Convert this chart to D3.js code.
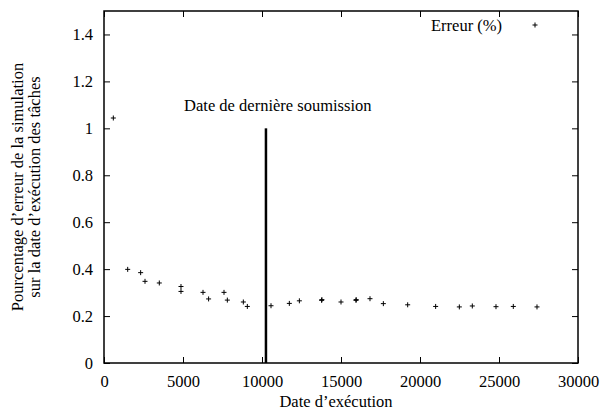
<!DOCTYPE html>
<html>
<head>
<meta charset="utf-8">
<script src="https://cdn.jsdelivr.net/npm/d3@7"></script>
<style>
  body { margin: 0; background: #fff; }
  svg text { font-family: "Liberation Serif", "Times New Roman", Times, "DejaVu Serif", serif; }
</style>
</head>
<body>
<div id="chart"></div>
<script>
let height = 413,
    width = 601,
    margin = ({ top: 11, right: 23, bottom: 50, left: 104 });

// Erreur (%) en fonction de la date d'exécution
const dates = [590, 1500, 2320, 2595, 3500, 4873, 4873, 6266, 6620, 7595, 7806, 8819, 9072,
  10570, 11730, 12365, 13775, 13790, 15000, 15950, 15960, 16835, 17680, 19220, 20990,
  22490, 23310, 24810, 25905, 27405];
const erreurs = [1.044, 0.399, 0.385, 0.348, 0.341, 0.326, 0.305, 0.301, 0.273, 0.301, 0.268, 0.260, 0.241,
  0.244, 0.254, 0.265, 0.267, 0.270, 0.260, 0.267, 0.270, 0.274, 0.253, 0.248, 0.241,
  0.239, 0.243, 0.240, 0.241, 0.239];
const xTicks = [0, 5000, 10000, 15000, 20000, 25000, 30000];
const yTicks = [0, 0.2, 0.4, 0.6, 0.8, 1, 1.2, 1.4];
const soumission = 10250; // date de dernière soumission

const serif = "'Liberation Serif', 'Times New Roman', Times, 'DejaVu Serif', serif";
const fs = 16.5;

const svg = d3.select("#chart")
  .append("svg")
  .attr("width", width)
  .attr("height", height)
  .attr("font-family", serif);

let x = d3.scaleLinear()
  .domain([0, 30000])
  .range([margin.left, width - margin.right]);

let y = d3.scaleLinear()
  .domain([0, 1.5])
  .range([height - margin.bottom, margin.top]);

const tick = 6;

// axes with inward ticks, mirrored on top/right
svg.append("g")
  .attr("transform", `translate(0,${height - margin.bottom})`)
  .call(d3.axisBottom(x).tickValues(xTicks).tickSize(-tick).tickPadding(12).tickFormat(d3.format("d")))
  .call(g => g.select(".domain").remove());

svg.append("g")
  .attr("transform", `translate(0,${margin.top})`)
  .call(d3.axisTop(x).tickValues(xTicks).tickSize(-tick).tickFormat(""))
  .call(g => g.select(".domain").remove());

svg.append("g")
  .attr("transform", `translate(${margin.left},0)`)
  .call(d3.axisLeft(y).tickValues(yTicks).tickSize(-tick).tickPadding(11).tickFormat(d => d3.format("")(+d.toFixed(1))))
  .call(g => g.select(".domain").remove());

svg.append("g")
  .attr("transform", `translate(${width - margin.right},0)`)
  .call(d3.axisRight(y).tickValues(yTicks).tickSize(-tick).tickFormat(""))
  .call(g => g.select(".domain").remove());

svg.selectAll("g").attr("font-family", serif);
svg.selectAll(".tick text")
  .attr("font-size", fs)
  .attr("fill", "#000");
svg.selectAll(".tick line").attr("stroke", "#000");

// frame
svg.append("rect")
  .attr("x", margin.left)
  .attr("y", margin.top)
  .attr("width", width - margin.left - margin.right)
  .attr("height", height - margin.top - margin.bottom)
  .attr("fill", "none")
  .attr("stroke", "#000")
  .attr("stroke-width", 1.5);

// vertical line: last submission date
svg.append("line")
  .attr("x1", x(soumission)).attr("x2", x(soumission))
  .attr("y1", y(0)).attr("y2", y(1))
  .attr("stroke", "#000")
  .attr("stroke-width", 2.5);

svg.append("text")
  .attr("x", x(11000))
  .attr("y", y(1.1) + 6)
  .attr("text-anchor", "middle")
  .attr("font-size", fs)
  .text("Date de dernière soumission");

// points
svg.append("g")
  .selectAll("path")
  .data(dates.map((d, i) => [d, erreurs[i]]))
  .join("path")
  .attr("d", d => `M${x(d[0]) - 2.5},${y(d[1])}h5M${x(d[0])},${y(d[1]) - 2.5}v5`)
  .attr("stroke", "#000")
  .attr("stroke-width", 1)
  .attr("fill", "none");

// legend
svg.append("text")
  .attr("x", 502)
  .attr("y", 31)
  .attr("text-anchor", "end")
  .attr("font-size", fs)
  .text("Erreur (%)");
svg.append("path")
  .attr("d", "M532.5,25h5M535,22.5v5")
  .attr("stroke", "#000")
  .attr("fill", "none");

// axis titles
svg.append("text")
  .attr("x", 336)
  .attr("y", 407)
  .attr("text-anchor", "middle")
  .attr("font-size", fs)
  .text("Date d’exécution");

const yl = svg.append("text")
  .attr("transform", `translate(0,${(y(0) + y(1.5)) / 2}) rotate(-90)`)
  .attr("text-anchor", "middle")
  .attr("font-size", fs);
yl.append("tspan").attr("x", 0).attr("y", 23).text("Pourcentage d’erreur de la simulation");
yl.append("tspan").attr("x", 0).attr("y", 40).text("sur la date d’exécution des tâches");
</script>
</body>
</html>
